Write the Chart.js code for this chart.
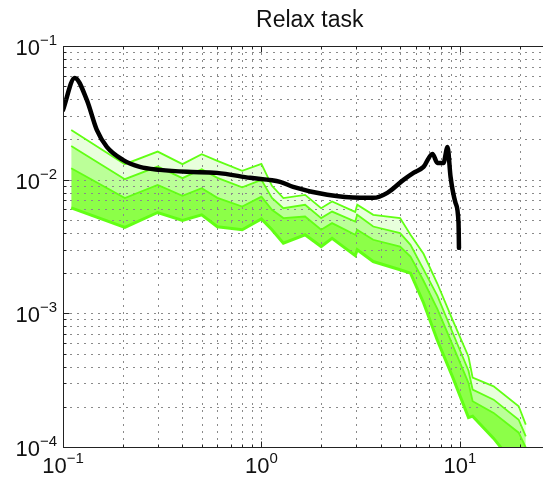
<!DOCTYPE html>
<html>
<head>
<meta charset="utf-8">
<title>Relax task</title>
<script src="https://cdn.jsdelivr.net/npm/chart.js@4.4.0/dist/chart.umd.min.js"></script>
<style>
  html, body { margin: 0; padding: 0; background: #fff; overflow: hidden; }
  #wrap { width: 543px; height: 487px; overflow: hidden; }
</style>
</head>
<body>
<div id="wrap"><canvas id="psd" width="570" height="487"></canvas></div>
<script>
// frequencies shared by the percentile band edges
const bandFreq = [0.11, 0.205, 0.3, 0.4, 0.5, 0.6, 0.8, 1.0, 1.13, 1.29, 1.66, 2.0, 2.27, 2.97, 3.04,
                  3.66, 5.0, 5.64, 6.56, 7.71, 9.18, 11.06, 11.6, 14.8, 19.8, 21.5];

// band edges, top to bottom
const bandTop = [0.02355, 0.01306, 0.01622, 0.01306, 0.01551, 0.01382, 0.01164, 0.01312, 0.00900, 0.00728,
                 0.00770, 0.00612, 0.00686, 0.00574, 0.00649, 0.00546, 0.00516, 0.00387, 0.00279, 0.001664,
                 0.000896, 0.000474, 0.000330, 0.000284, 0.000202, 0.000147];
const bandUpper = [0.01789, 0.01009, 0.01253, 0.01026, 0.01198, 0.01032, 0.00876, 0.00997, 0.00731, 0.00612,
                   0.00649, 0.00516, 0.00577, 0.00486, 0.00546, 0.00446, 0.00398, 0.003256, 0.00213, 0.001349,
                   0.000722, 0.000372, 0.000269, 0.000226, 0.000160, 0.000120];
const bandLower = [0.01219, 0.00728, 0.00914, 0.00757, 0.00864, 0.00731, 0.00630, 0.00747, 0.00595, 0.00516,
                   0.00530, 0.00422, 0.00473, 0.00387, 0.00422, 0.00355, 0.00316, 0.00266, 0.001752, 0.001075,
                   0.000583, 0.000301, 0.000220, 0.000180, 0.000128, 0.0000990];
const bandBottom = [0.00615, 0.00440, 0.00568, 0.00495, 0.00546, 0.00444, 0.00422, 0.00509, 0.00422, 0.00335,
                    0.00387, 0.00316, 0.00364, 0.00270, 0.00299, 0.00244, 0.00212, 0.00200, 0.00120, 0.000626,
                    0.000336, 0.000166, 0.000170, 0.000116, 0.0000678, 0.0000571];

// measured spectrum (black curve)
const taskFreq = [0.1, 0.1146, 0.1318, 0.148, 0.1663, 0.2003, 0.2438, 0.3077, 0.4214, 0.597, 0.877, 1.242,
                  1.445, 2.147, 3.153, 3.67, 4.31, 5.2, 5.84, 6.56, 7.28, 7.71, 8.27, 8.67, 8.98, 9.51, 9.85, 9.9];
const taskPower = [0.0332, 0.0577, 0.0395, 0.02355, 0.01758, 0.01406, 0.01246, 0.01184, 0.01144, 0.01124,
                   0.01032, 0.00963, 0.00883, 0.00770, 0.00731, 0.00731, 0.00797, 0.00997, 0.01124, 0.01246,
                   0.01559, 0.01335, 0.01335, 0.01758, 0.01049, 0.00671, 0.00475, 0.00309];

const xRange = [0.1, 30];
const yRange = [1e-4, 1e-1];
const titleText = 'Relax task';

const FONT = '"Liberation Sans", Arial, Helvetica, sans-serif';
const EDGE = '#62ff14';

function logTicks(min, max) {
  const out = [];
  for (let e = Math.floor(Math.log10(min)); e <= Math.ceil(Math.log10(max)); e++) {
    for (let m = 1; m <= 9; m++) {
      const v = m * Math.pow(10, e);
      if (v >= min * 0.999 && v <= max * 1.001) out.push({ value: v });
    }
  }
  return out;
}

function decade(v) {
  const l = Math.log10(v);
  return Math.abs(l - Math.round(l)) < 1e-6 ? Math.round(l) : null;
}

function powerLabel(ctx, n, px, py, alignRight) {
  const exp = (n < 0 ? '\u2212' : '') + Math.abs(n);
  ctx.font = '22px ' + FONT;
  const wBase = ctx.measureText('10').width;
  ctx.font = '15px ' + FONT;
  const wExp = ctx.measureText(exp).width;
  const left = alignRight ? px - wBase - wExp : px - (wBase + wExp) / 2;
  ctx.textAlign = 'left';
  ctx.textBaseline = 'alphabetic';
  ctx.font = '22px ' + FONT;
  ctx.fillText('10', left, py);
  ctx.font = '15px ' + FONT;
  ctx.fillText(exp, left + wBase, py - 10);
}

// dotted grid, box, inward ticks, power-of-ten labels and title
const frame = {
  id: 'frame',
  beforeDatasetsDraw(chart) {
    const { ctx, chartArea: a, scales: { x, y } } = chart;
    ctx.save();
    ctx.strokeStyle = '#8a8a8a';
    ctx.lineWidth = 1;
    ctx.setLineDash([2, 5]);
    x.ticks.forEach(t => {
      const px = Math.round(x.getPixelForValue(t.value)) + 0.5;
      ctx.beginPath(); ctx.moveTo(px, a.top); ctx.lineTo(px, a.bottom); ctx.stroke();
    });
    y.ticks.forEach(t => {
      const py = Math.round(y.getPixelForValue(t.value)) + 0.5;
      ctx.beginPath(); ctx.moveTo(a.left, py); ctx.lineTo(a.right, py); ctx.stroke();
    });
    ctx.restore();
  },
  afterDraw(chart) {
    const { ctx, chartArea: a, scales: { x, y } } = chart;
    ctx.save();
    ctx.strokeStyle = '#222';
    ctx.lineWidth = 1;
    const L = Math.round(a.left) + 0.5, T = Math.round(a.top) + 0.5, B = Math.round(a.bottom) + 0.5;
    ctx.beginPath();
    ctx.moveTo(a.right, T); ctx.lineTo(L, T); ctx.lineTo(L, B); ctx.lineTo(a.right, B);
    ctx.stroke();

    ctx.beginPath();
    x.ticks.forEach(t => {
      const px = Math.round(x.getPixelForValue(t.value)) + 0.5;
      const len = decade(t.value) !== null ? 6 : 3;
      ctx.moveTo(px, T); ctx.lineTo(px, T + len);
      ctx.moveTo(px, B); ctx.lineTo(px, B - len);
    });
    y.ticks.forEach(t => {
      const py = Math.round(y.getPixelForValue(t.value)) + 0.5;
      const len = decade(t.value) !== null ? 6 : 3;
      ctx.moveTo(L, py); ctx.lineTo(L + len, py);
    });
    ctx.stroke();

    ctx.fillStyle = '#111';
    x.ticks.forEach(t => {
      const n = decade(t.value);
      if (n !== null) powerLabel(ctx, n, x.getPixelForValue(t.value), a.bottom + 26, false);
    });
    y.ticks.forEach(t => {
      const n = decade(t.value);
      if (n !== null) powerLabel(ctx, n, a.left - 6, y.getPixelForValue(t.value) + 9, true);
    });

    ctx.font = '23px ' + FONT;
    ctx.textAlign = 'center';
    ctx.textBaseline = 'alphabetic';
    ctx.fillText(titleText, (a.left + a.right) / 2 + 1, 27);
    ctx.restore();
  }
};

function band(values, fillColor, width) {
  return {
    data: bandFreq.map((f, i) => ({ x: f, y: values[i] })),
    borderColor: EDGE,
    borderWidth: width,
    backgroundColor: fillColor || 'transparent',
    fill: fillColor ? '+1' : false,
    tension: 0,
    pointRadius: 0,
    order: 1
  };
}

const logAxis = (range) => ({
  type: 'logarithmic',
  min: range[0],
  max: range[1],
  grid: { display: false, drawTicks: false, tickLength: 0 },
  border: { display: false },
  ticks: { display: false, padding: 0 },
  afterBuildTicks: s => { s.ticks = logTicks(range[0], range[1]); }
});

new Chart(document.getElementById('psd'), {
  type: 'line',
  data: {
    datasets: [
      {
        data: taskFreq.map((f, i) => ({ x: f, y: taskPower[i] })),
        borderColor: '#000',
        borderWidth: 4.5,
        borderCapStyle: 'round',
        borderJoinStyle: 'round',
        cubicInterpolationMode: 'monotone',
        pointRadius: 0,
        fill: false,
        order: 0
      },
      band(bandTop, '#e8ffdc', 1.8),
      band(bandUpper, '#bbff98', 1.8),
      band(bandLower, '#8cff48', 1.8),
      band(bandBottom, null, 3)
    ]
  },
  options: {
    responsive: false,
    animation: false,
    layout: { padding: { left: 63, top: 46, right: 15.5, bottom: 40 } },
    plugins: {
      legend: { display: false },
      tooltip: { enabled: false },
      filler: { drawTime: 'beforeDatasetsDraw' }
    },
    scales: {
      x: logAxis(xRange),
      y: logAxis(yRange)
    }
  },
  plugins: [frame]
});
</script>
</body>
</html>
